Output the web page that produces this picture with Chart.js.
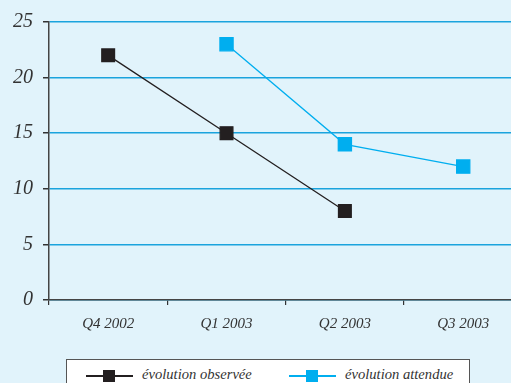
<!DOCTYPE html>
<html>
<head>
<meta charset="utf-8">
<script src="https://cdn.jsdelivr.net/npm/chart.js@4/dist/chart.umd.min.js"></script>
<style>
  html, body { margin: 0; padding: 0; width: 511px; height: 383px; overflow: hidden; background: #e1f3fb; }
  #wrap { position: absolute; left: 0; top: 0; width: 533px; height: 383px; }
  #legend {
    position: absolute; left: 66px; top: 359px; width: 404px; height: 30px;
    background: #fff; border: 1.5px solid #555; box-sizing: border-box;
    font-family: "Liberation Serif", "DejaVu Serif", serif; font-style: italic; font-size: 14.6px; color: #333;
  }
  .item { position: absolute; top: 7px; height: 16px; }
  .item .ln { position: absolute; top: 8px; left: 0; width: 47px; height: 1.5px; }
  .item .sq { position: absolute; top: 3px; left: 17px; width: 12px; height: 12px; }
  .item .tx { position: absolute; left: 56px; top: -1px; white-space: nowrap; }
</style>
</head>
<body>
<div id="wrap"><canvas id="c" width="533" height="383"></canvas></div>
<div id="legend">
  <div class="item" style="left:19px"><div class="ln" style="background:#231f20"></div><div class="sq" style="background:#231f20"></div><div class="tx" id="l0"></div></div>
  <div class="item" style="left:222px"><div class="ln" style="background:#00aeef"></div><div class="sq" style="background:#00aeef"></div><div class="tx" id="l1"></div></div>
</div>
<script>
// Quarters on the horizontal axis
const quarters = ['Q4 2002', 'Q1 2003', 'Q2 2003', 'Q3 2003'];
// Series values per quarter (null where a series has no point)
const observed = [22, 15, 8, null];
const expected = [null, 23, 14, 12];
const seriesNames = ['évolution observée', 'évolution attendue'];
const yTicks = [0, 5, 10, 15, 20, 25];

document.getElementById('l0').textContent = seriesNames[0];
document.getElementById('l1').textContent = seriesNames[1];

const serif = '"Liberation Serif", "DejaVu Serif", serif';

new Chart(document.getElementById('c'), {
  type: 'line',
  data: {
    labels: quarters,
    datasets: [
      {
        label: seriesNames[0], data: observed,
        borderColor: '#231f20', backgroundColor: '#231f20',
        borderWidth: 1.3, pointStyle: 'rect', pointRadius: 9, pointHoverRadius: 9,
        spanGaps: false
      },
      {
        label: seriesNames[1], data: expected,
        borderColor: '#00aeef', backgroundColor: '#00aeef',
        borderWidth: 1.3, pointStyle: 'rect', pointRadius: 9.3, pointHoverRadius: 9.3,
        spanGaps: false
      }
    ]
  },
  options: {
    responsive: false,
    animation: false,
    devicePixelRatio: 1,
    layout: { padding: { top: 21, right: 0, left: 0, bottom: 0 } },
    plugins: { legend: { display: false }, tooltip: { enabled: false } },
    scales: {
      x: {
        offset: true,
        grid: { offset: true, drawOnChartArea: false, color: '#333', tickColor: '#333', tickLength: 5, lineWidth: 1.2 },
        border: { color: '#444', width: 1.5 },
        ticks: { color: '#333', font: { family: serif, style: 'italic', size: 15 }, padding: 10 },
        afterFit: (s) => { s.height = 83; }
      },
      y: {
        min: 0, max: 25,
        afterBuildTicks: (s) => { s.ticks = yTicks.map(v => ({ value: v })); },
        grid: { color: '#1aa3dd', lineWidth: 1.5, tickColor: '#333', tickLength: 6 },
        border: { color: '#444', width: 1.5 },
        ticks: { color: '#333', font: { family: serif, style: 'italic', size: 20 }, padding: 10 },
        afterFit: (s) => { s.width = 49; }
      }
    }
  }
});
</script>
</body>
</html>
